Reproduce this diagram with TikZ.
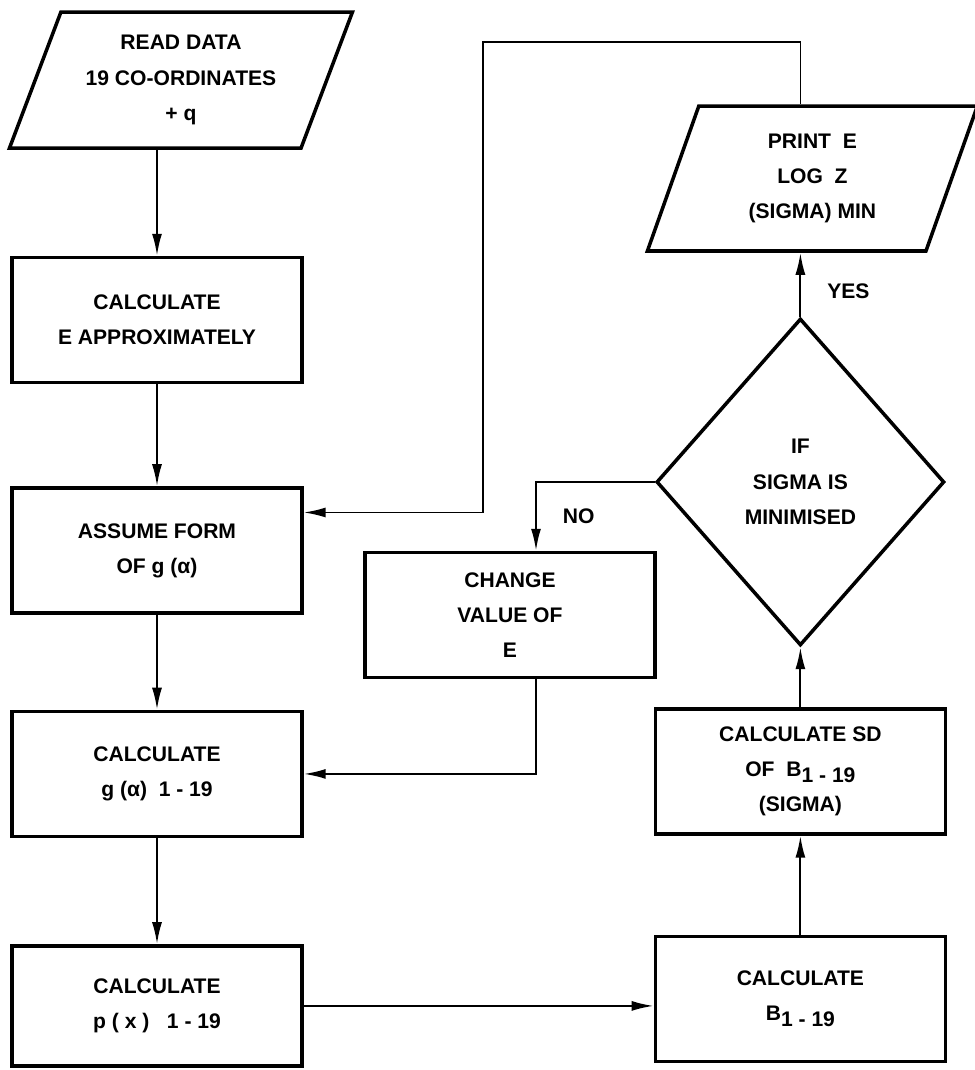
\documentclass[tikz,border=0pt]{standalone}
\usepackage{fontspec}
\setmainfont{Liberation Sans}
\usetikzlibrary{arrows.meta, positioning, shapes.geometric}
\newcommand{\lowidx}[1]{\raisebox{-0.5ex}{#1}}
\tikzset{
  chartfont/.style={font=\fontsize{12}{20}\selectfont\bfseries},
  box/.style={draw, rectangle, line width=2pt, minimum width=5.8cm, minimum height=2.5cm, align=center, chartfont},
  io/.style={draw, trapezium, trapezium left angle=63, trapezium right angle=117, trapezium stretches body, line width=2pt, align=center, chartfont},
  decision/.style={draw, diamond, line width=2pt, minimum width=5.76cm, minimum height=6.54cm, align=center, chartfont},
  flow/.style={->, line width=1.2pt},
  lbl/.style={font=\fontsize{12}{14}\selectfont\bfseries}
}

\begin{document}
\begin{tikzpicture}[x=0.02cm, y=-0.02cm, >={Latex[length=4.4mm, width=2mm]}, node distance=2.1cm]
\useasboundingbox (0,0) rectangle (974,1070);
% left column
\node[box] (approx) at (157,320) {CALCULATE\\E APPROXIMATELY};
\node[io, above=2.12cm of approx, xshift=0.48cm, minimum width=6.86cm, minimum height=2.72cm] (read) {READ DATA\\19 CO-ORDINATES\\+ q};
\node[box, below=2.04cm of approx] (assume) {ASSUME FORM\\OF g (α)};
\node[box, below=1.9cm of assume] (calcg) {CALCULATE\\g (α) \ 1 - 19};
\node[box, below=2.12cm of calcg, minimum height=2.4cm] (calcp) {CALCULATE\\p ( x ) \ \ 1 - 19};
% right column
\node[box, right=7.0cm of calcp, yshift=0.14cm] (calcB) {CALCULATE\\B\lowidx{1 - 19}};
\node[box, above=1.98cm of calcB] (calcSD) {CALCULATE SD\\OF \ B\lowidx{1 - 19}\\(SIGMA)};
\node[decision, above=1.2cm of calcSD] (dia) {IF\\SIGMA IS\\MINIMISED};
\node[io, above=1.28cm of dia, xshift=0.24cm, minimum width=6.6cm, minimum height=2.9cm] (print) {PRINT \ E\\LOG \ Z\\(SIGMA) MIN};
\node[box] (change) at (510,615) {CHANGE\\VALUE OF\\E};
\coordinate (loop) at (483,42);
% connectors
\draw[flow] (read.south -| approx.north) -- (approx.north);
\draw[flow] (approx) -- (assume);
\draw[flow] (assume) -- (calcg);
\draw[flow] (calcg) -- (calcp);
\draw[flow] (calcp.east) -- (calcp.east -| calcB.west);
\draw[flow] (calcB) -- (calcSD);
\draw[flow] (calcSD) -- (dia);
\draw[flow] (dia.north) -- node[lbl, pos=0.4, right=0.4cm] {YES} (dia.north |- print.south);
\draw[flow, line width=1pt] (print.north -| dia.north) |- (loop) |- ([yshift=0.76cm]assume.east);
\draw[flow] (dia.west) -| node[lbl, pos=0.75, right=0.4cm] {NO} ([xshift=0.52cm]change.north);
\draw[flow] ([xshift=0.52cm]change.south) |- (calcg.east);
\end{tikzpicture}
\end{document}
